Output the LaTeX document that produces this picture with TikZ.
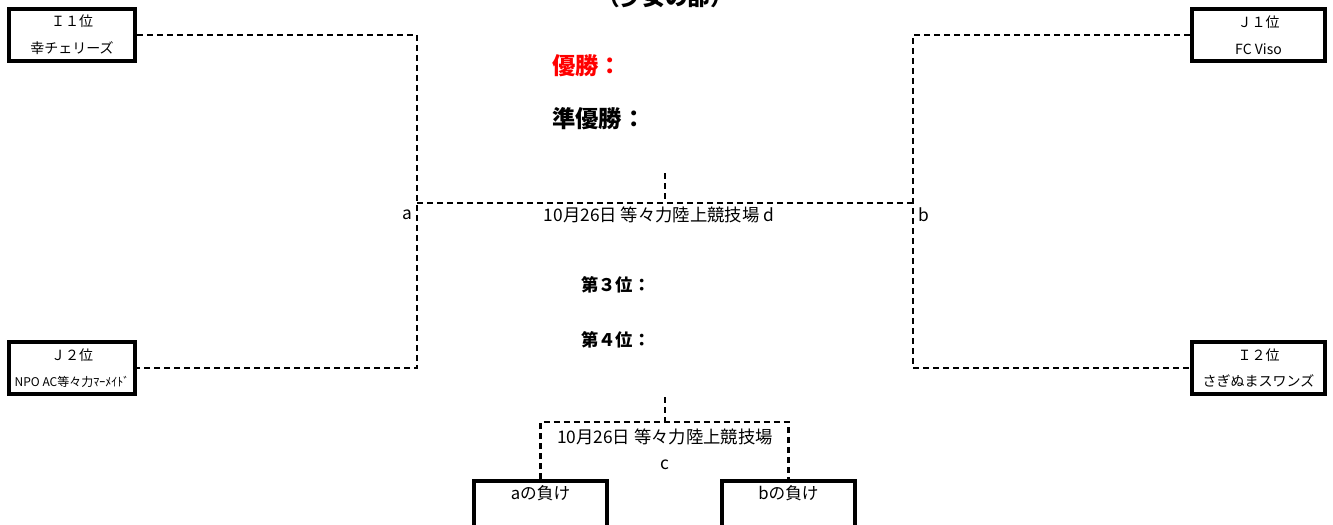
\documentclass[tikz,border=0pt]{standalone}
\usepackage{fontspec}
\setmainfont{Noto Sans CJK JP}
\definecolor{winred}{RGB}{255,0,0}
\begin{document}
\begin{tikzpicture}[x=0.75pt,y=-0.75pt,
  team/.style={draw,line width=3pt,minimum width=#1,minimum height=39pt,inner sep=0pt,align=center,font=\fontsize{10.5}{20}\selectfont},
  team/.default=97pt,
  lose/.style={draw,line width=3pt,minimum width=100pt,minimum height=60pt,inner sep=0pt,anchor=north},
  dline/.style={line width=1.8pt,dash pattern=on 4.5pt off 3pt},
  plain/.style={font=\fontsize{13}{15}\selectfont,inner sep=0pt},
  losetxt/.style={font=\fontsize{12.5}{14}\selectfont,inner sep=0pt},
  bigtxt/.style={font=\fontsize{17.5}{20}\selectfont\bfseries,inner sep=0pt,anchor=west},
  midtxt/.style={font=\fontsize{13}{15}\selectfont\bfseries,inner sep=0pt,anchor=west}]
\useasboundingbox (0,0) rectangle (1333,524);
\clip (0,0) rectangle (1333,524);
\fill[white] (0,0) rectangle (1333,524);
% title
\node[font=\fontsize{17}{19}\selectfont\bfseries,inner sep=0pt] (title) at (665,-3) {（少女の部）};
% team boxes
\node[team=94.5pt] (I1) at (72,35) {Ｉ１位\\幸チェリーズ};
\node[team=99.75pt] (J1) at (1258.5,35) {Ｊ１位\\FC Viso};
\node[team=94.5pt] (J2) at (72,368) {Ｊ２位\\{\fontsize{9}{10}\selectfont NPO AC等々力ﾏｰﾒｲﾄﾞ}};
\node[team=99.75pt] (I2) at (1258.5,368) {Ｉ２位\\さぎぬまスワンズ};
% coordinates
\coordinate (aM) at (417,203);
\coordinate (bM) at (913,203);
\coordinate (dTop) at (665,173);
\coordinate (dBot) at (665,203);
% brackets
\draw[dline] (I1.east) -| (aM) |- (J2.east);
\draw[dline] (J1.west) -| (bM) |- (I2.west);
\draw[dline] (aM) -- (bM);
\draw[dline] (dTop) -- (dBot);
% labels
\node[plain,anchor=east] (la) at (413,215) {a};
\node[plain,anchor=west] (lb) at (918,215) {b};
\node[plain] (ld) at (659,215) {10月26日 等々力陸上競技場 d};
% results
\node[bigtxt,text=winred] (win) at (552,66) {優勝：};
\node[bigtxt] (run) at (552,119) {準優勝：};
\node[midtxt] (third) at (581,285) {第３位：};
\node[midtxt] (fourth) at (581,340) {第４位：};
% third place match
\node[lose,label={[losetxt,anchor=north,yshift=-5pt]north:aの負け}] (LA) at (540.5,479) {};
\node[lose,label={[losetxt,anchor=north,yshift=-5pt]north:bの負け}] (LB) at (788.5,479) {};
\coordinate (cTop) at (665,397);
\coordinate (cM) at (665,422);
\coordinate (cL) at (540.5,422);
\coordinate (cR) at (788.5,422);
\draw[dline] (cTop) -- (cM);
\draw[dline] (LA.north) -- (cL) -- (cR) -- (LB.north);
\node[plain] (lc1) at (665,437) {10月26日 等々力陸上競技場};
\node[plain] (lc2) at (665,465) {c};
\end{tikzpicture}
\end{document}
